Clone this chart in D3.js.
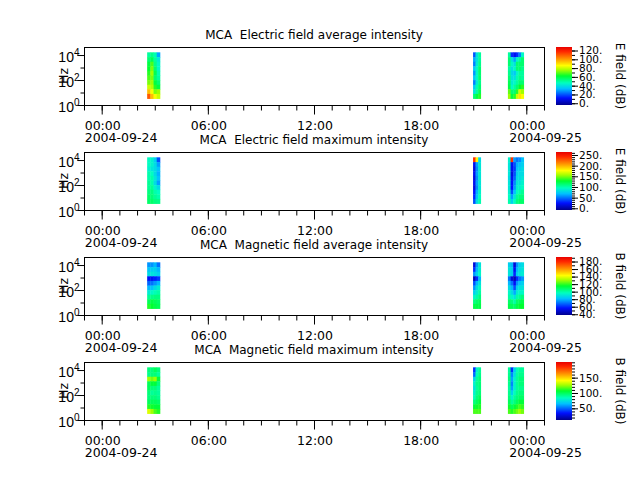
<!DOCTYPE html>
<html>
<head>
<meta charset="utf-8">
<script src="https://cdn.jsdelivr.net/npm/d3@7"></script>
<style>
  body { margin: 0; background: #fff; }
  svg { display: block; font-family: "DejaVu Sans", sans-serif; }
  svg text { white-space: pre; }
</style>
</head>
<body>
<svg id="chart" width="640" height="480"></svg>
<script>
// panels, top to bottom
const panelTitles = [
	"MCA  Electric field average intensity",
	"MCA  Electric field maximum intensity",
	"MCA  Magnetic field average intensity",
	"MCA  Magnetic field maximum intensity"
];
const cbarLabels = ["E field (dB)", "E field (dB)", "B field (dB)", "B field (dB)"];
const cbarDomains = [[-4, 128], [-8, 264], [38, 192], [12, 201]];
const cbarTicks = [
	[0, 20, 40, 60, 80, 100, 120],
	[0, 50, 100, 150, 200, 250],
	[40, 60, 80, 100, 120, 140, 160, 180],
	[50, 100, 150]
];

// time axis (hours from 2004-09-24 00:00 UT)
const timeRange = [-1, 25];
const timeTicks = [0, 6, 12, 18, 24];
const dateLabels = {0: "2004-09-24", 24: "2004-09-25"};

// frequency bin edges (Hz), low -> high
const freqEdges = [3.3, 7.7, 18, 42, 98, 230, 540, 1250, 2900, 6800, 16500];
const freqRange = [1, 44000];

// time edges of the three data blocks (hours)
const blockTimes = [
	[2.57, 2.75, 2.93, 3.11, 3.29],
	[20.99, 21.13, 21.28, 21.42],
	[22.96, 23.11, 23.26, 23.41, 23.55, 23.70, 23.85]
];

// dB values, rows from highest frequency bin down to lowest
const eAvg = [
	[[50, 52, 48, 30], [55, 58, 50, 42], [60, 68, 52, 45], [62, 72, 55, 45], [65, 75, 58, 48],
	 [68, 72, 55, 50], [72, 75, 60, 55], [80, 78, 65, 60], [95, 85, 72, 75], [110, 95, 85, 80]],
	[[20, 40, 50], [30, 40, 50], [25, 42, 52], [35, 45, 55], [28, 45, 55],
	 [35, 45, 55], [25, 42, 52], [35, 48, 55], [40, 50, 58], [55, 60, 65]],
	[[50, 15, 10, 15, 25, 45], [55, 40, 30, 45, 50, 55], [55, 45, 40, 55, 55, 55], [50, 40, 45, 55, 55, 52],
	 [52, 38, 35, 45, 50, 50], [55, 40, 40, 48, 52, 50], [58, 42, 45, 50, 55, 55], [60, 45, 50, 55, 62, 65],
	 [70, 55, 55, 65, 80, 75], [75, 60, 65, 80, 90, 85]]
];
const eMax = [
	[[95, 90, 75, 40], [95, 90, 80, 60], [90, 85, 80, 70], [100, 95, 80, 65], [100, 100, 85, 70],
	 [105, 100, 80, 60], [105, 105, 90, 80], [110, 110, 100, 95], [115, 112, 105, 100], [115, 115, 110, 108]],
	[[240, 180, 80], [20, 60, 85], [15, 55, 85], [20, 60, 85], [15, 55, 85],
	 [20, 60, 85], [15, 55, 85], [25, 65, 90], [30, 70, 95], [40, 80, 100]],
	[[90, 240, 60, 50, 55, 70], [85, 20, 40, 65, 70, 75], [85, 20, 35, 70, 75, 80], [85, 15, 40, 75, 80, 80],
	 [80, 20, 45, 80, 80, 85], [85, 25, 55, 85, 85, 90], [85, 25, 60, 90, 90, 95], [90, 40, 70, 95, 100, 105],
	 [95, 60, 85, 105, 110, 110], [100, 75, 95, 110, 115, 115]]
];
const bAvg = [
	[[75, 75, 80, 70], [82, 85, 85, 80], [88, 90, 88, 85], [55, 55, 58, 62], [68, 70, 75, 80],
	 [80, 82, 88, 92], [92, 95, 98, 100], [102, 104, 105, 105], [110, 112, 110, 108], [118, 115, 112, 110]],
	[[50, 75, 90], [60, 80, 92], [75, 85, 95], [45, 60, 80], [65, 80, 90],
	 [75, 88, 95], [85, 92, 100], [95, 100, 105], [105, 108, 110], [112, 112, 112]],
	[[85, 80, 50, 75, 85, 88], [90, 85, 55, 80, 88, 90], [90, 85, 60, 85, 90, 92], [70, 50, 45, 60, 70, 75],
	 [80, 70, 55, 75, 82, 85], [88, 80, 65, 85, 90, 90], [95, 88, 78, 92, 95, 95], [100, 95, 90, 100, 102, 105],
	 [108, 105, 100, 108, 110, 112], [112, 110, 108, 112, 115, 115]]
];
const bMax = [
	[[95, 95, 100, 95], [92, 95, 95, 90], [125, 120, 125, 105], [100, 105, 105, 95], [100, 95, 95, 90],
	 [95, 90, 92, 90], [95, 95, 95, 92], [100, 100, 100, 98], [110, 108, 105, 105], [135, 125, 115, 110]],
	[[40, 80, 90], [50, 85, 92], [70, 90, 95], [80, 92, 95], [75, 90, 95],
	 [80, 92, 95], [85, 95, 100], [95, 100, 105], [105, 108, 110], [115, 115, 115]],
	[[90, 40, 70, 85, 90, 90], [92, 55, 75, 88, 92, 92], [95, 60, 80, 90, 95, 95], [92, 55, 80, 90, 95, 95],
	 [90, 60, 80, 90, 92, 92], [92, 70, 85, 92, 95, 95], [95, 80, 90, 95, 98, 98], [100, 90, 95, 100, 105, 105],
	 [108, 100, 105, 110, 115, 112], [115, 110, 115, 120, 125, 120]]
];
const panelData = [eAvg, eMax, bAvg, bMax];

// rainbow colour table
const cmapPos = [0, 0.12, 0.28, 0.38, 0.5, 0.6, 0.68, 0.8, 0.92, 1];
const cmapCol = ["#00008c", "#0010ff", "#00c0ff", "#00ffc0", "#00ff30", "#a0ff00",
	"#ffff00", "#ff9000", "#ff2800", "#e80000"];

const svg = d3.select("#chart");
const axLeft = 84, axRight = 544, axH = 58;
const panelTops = [47, 152, 257, 362];
const cbX = 556, cbW = 16;

const t0 = Date.UTC(2004, 8, 24);
const toDate = h => new Date(t0 + h * 3600e3);

const x = d3.scaleUtc()
	.domain(timeRange.map(toDate))
	.range([axLeft, axRight]);

const cmap = d3.scaleLinear().domain(cmapPos).range(cmapCol).clamp(true);

// gradient for the colour bars
const grad = svg.append("defs").append("linearGradient")
	.attr("id", "cbgrad")
	.attr("x1", 0).attr("y1", 1).attr("x2", 0).attr("y2", 0);
cmapPos.forEach((p, i) => {
	grad.append("stop").attr("offset", p).attr("stop-color", cmapCol[i]);
});

panelTops.forEach((top, pi) => {
	const g = svg.append("g");
	const bottom = top + axH;

	const y = d3.scaleLog().domain(freqRange).range([bottom, top]);
	const c = d3.scaleLinear().domain(cbarDomains[pi]).range([0, 1]);

	// spectrogram cells
	panelData[pi].forEach((rows, bi) => {
		const times = blockTimes[bi];
		rows.forEach((row, ri) => {
			const fHi = freqEdges[freqEdges.length - 1 - ri];
			const fLo = freqEdges[freqEdges.length - 2 - ri];
			row.forEach((v, ci) => {
				const xa = x(toDate(times[ci])), xb = x(toDate(times[ci + 1]));
				g.append("rect")
					.attr("x", xa)
					.attr("y", y(fHi))
					.attr("width", xb - xa + 0.4)
					.attr("height", y(fLo) - y(fHi) + 0.4)
					.attr("fill", cmap(c(v)));
			});
		});
	});

	// frame
	g.append("rect")
		.attr("x", axLeft + 0.5).attr("y", top + 0.5)
		.attr("width", axRight - axLeft).attr("height", axH)
		.attr("fill", "none").attr("stroke", "#000").attr("stroke-width", 1);

	// x axis, minor then major
	const minorX = g.append("g")
		.attr("transform", "translate(0," + (bottom + 0.5) + ")")
		.call(d3.axisBottom(x).ticks(d3.utcHour.every(1)).tickSize(5).tickFormat("").tickSizeOuter(0));
	minorX.select(".domain").remove();

	const majorX = g.append("g")
		.attr("transform", "translate(0," + (bottom + 0.5) + ")")
		.call(d3.axisBottom(x)
			.tickValues(timeTicks.map(toDate))
			.tickSize(9)
			.tickPadding(6.5)
			.tickFormat(d3.utcFormat("%H:%M"))
			.tickSizeOuter(0));
	majorX.select(".domain").remove();
	majorX.selectAll("text")
		.attr("font-size", 12.5)
		.attr("font-family", "DejaVu Sans")
		.attr("fill", "#000")
		.attr("text-anchor", "start")
		.attr("x", -17.5)
		.each(function(d, i) {
			const lbl = dateLabels[timeTicks[i]];
			if (lbl) {
				d3.select(this).append("tspan")
					.attr("x", -17.5)
					.attr("dy", "1em")
					.text(lbl);
			}
		});

	// y axis, log
	const minorY = g.append("g")
		.attr("transform", "translate(" + (axLeft + 0.5) + ",0)")
		.call(d3.axisLeft(y).tickValues([10, 1000]).tickSize(4).tickFormat("").tickSizeOuter(0));
	minorY.select(".domain").remove();

	const majorY = g.append("g")
		.attr("transform", "translate(" + (axLeft + 0.5) + ",0)")
		.call(d3.axisLeft(y).tickValues([1, 100, 10000]).tickSize(7).tickFormat("").tickSizeOuter(0));
	majorY.select(".domain").remove();
	majorY.selectAll(".tick").each(function(d) {
		const t = d3.select(this).append("text")
			.attr("x", -5)
			.attr("y", 6.5)
			.attr("text-anchor", "end")
			.attr("font-size", 14)
			.attr("fill", "#000");
		t.append("tspan").text("10");
		t.append("tspan")
			.attr("font-size", 10)
			.attr("dy", -6)
			.text(Math.round(Math.log10(d)));
	});

	g.append("text")
		.attr("transform", "translate(63," + (top + axH / 2) + ") rotate(-90)")
		.attr("text-anchor", "middle")
		.attr("dominant-baseline", "central")
		.attr("font-size", 12.5)
		.text("Hz");

	// title
	g.append("text")
		.attr("x", (axLeft + axRight) / 2)
		.attr("y", top - 8)
		.attr("text-anchor", "middle")
		.attr("font-size", 12)
		.text(panelTitles[pi]);

	// colour bar
	const cs = d3.scaleLinear().domain(cbarDomains[pi]).range([bottom, top]);
	g.append("rect")
		.attr("x", cbX).attr("y", top)
		.attr("width", cbW).attr("height", axH)
		.attr("fill", "url(#cbgrad)");

	const dom = cbarDomains[pi];
	const minorVals = d3.range(Math.ceil(dom[0] / 10) * 10, dom[1], 10);
	const minorC = g.append("g")
		.attr("transform", "translate(" + (cbX + cbW) + ",0)")
		.call(d3.axisRight(cs).tickValues(minorVals).tickSize(3).tickFormat("").tickSizeOuter(0));
	minorC.select(".domain").remove();

	const majorC = g.append("g")
		.attr("transform", "translate(" + (cbX + cbW) + ",0)")
		.call(d3.axisRight(cs).tickValues(cbarTicks[pi]).tickSize(6).tickPadding(1)
			.tickFormat(d => d + ".").tickSizeOuter(0));
	majorC.select(".domain").remove();
	majorC.selectAll("text")
		.attr("font-size", 10.5)
		.attr("font-family", "DejaVu Sans")
		.attr("fill", "#000");

	g.append("text")
		.attr("transform", "translate(620," + (top + axH / 2) + ") rotate(90)")
		.attr("text-anchor", "middle")
		.attr("dominant-baseline", "central")
		.attr("font-size", 12)
		.text(cbarLabels[pi]);
});
</script>
</body>
</html>
